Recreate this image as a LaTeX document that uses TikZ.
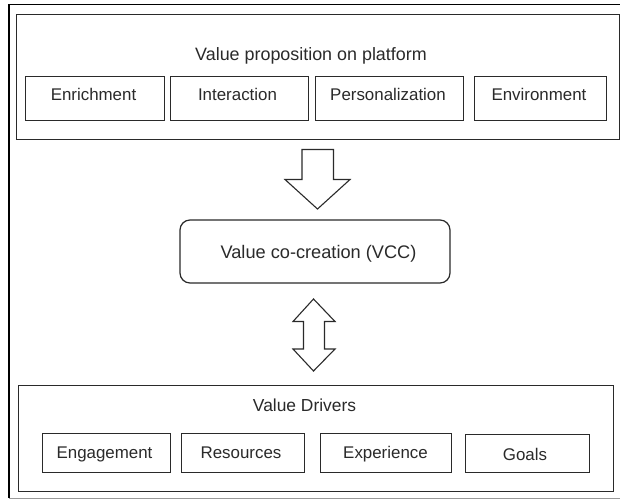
\documentclass[tikz,border=0pt]{standalone}
\usepackage{fontspec}
\setmainfont{Liberation Sans}
\definecolor{ink}{HTML}{2A2A2A}
\tikzset{
  frameline/.style={draw=ink,line width=1.2pt},
  itembox/.style={frameline,rectangle,inner sep=0pt,anchor=north west},
  itemtext/.style={text=ink,inner sep=0pt,anchor=base,font=\fontsize{16.9}{18}\selectfont},
  caption/.style={text=ink,inner sep=0pt,anchor=base,font=\fontsize{17.4}{18}\selectfont},
  bigarrow/.style={draw=ink,line width=1.1pt,line join=miter,fill=white}
}
% name, text, x0, x1, y0, y1, text x, text baseline y
\newcommand{\itemnode}[8]{\node[itembox,minimum width=#4pt-#3pt,minimum height=#6pt-#5pt] (#1) at (#3,#5) {};
  \node[itemtext] (#1text) at (#7,#8) {#2};}
\begin{document}
\begin{tikzpicture}[x=1pt,y=-1pt]
\useasboundingbox (0,0) rectangle (620,500);
\fill[white] (0,0) rectangle (620,500);
% outer frame
\draw[draw=black,line width=1.8pt] (620,4.5) -- (9,4.5) -- (9,498);
\draw[draw=gray!80,line width=1.2pt] (9,498.7) -- (620,498.7);
% top group
\node[frameline,rectangle,inner sep=0pt,anchor=north west,minimum width=603pt,minimum height=124.5pt] (topgroup) at (16,14) {};
\node[caption,font=\fontsize{17.9}{18}\selectfont] (toptitle) at (311,60.5) {Value proposition on platform};
\itemnode{enrich}{Enrichment}{25}{163.5}{76}{120}{93.5}{101}
\itemnode{interact}{Interaction}{169.5}{308}{76}{120}{237.5}{101}
\itemnode{personal}{Personalization}{315}{463}{76}{120}{388}{101}
\itemnode{environ}{Environment}{474}{606}{76}{120}{539}{101}
% arrow down
\draw[bigarrow] (302,149.5) -- (333.5,149.5) -- (333.5,179.5) -- (350,179.5) -- (317.5,209) -- (285,179.5) -- (302,179.5) -- cycle;
% centre
\node[frameline,rectangle,rounded corners=10pt,inner sep=0pt,minimum width=270pt,minimum height=63pt] (vcc) at (315,251.5) {};
\node[caption,font=\fontsize{18.2}{18}\selectfont] (vcctext) at (318.5,258) {Value co-creation (VCC)};
% double arrow
\draw[bigarrow] (313.5,299) -- (335,321.5) -- (324.5,321.5) -- (324.5,349) -- (335,349) -- (313.5,371) -- (293,349) -- (303.5,349) -- (303.5,321.5) -- (293,321.5) -- cycle;
% bottom group
\node[frameline,rectangle,inner sep=0pt,anchor=north west,minimum width=595pt,minimum height=105.5pt] (botgroup) at (18,385) {};
\node[caption] (bottitle) at (304.5,411) {Value Drivers};
\itemnode{engage}{Engagement}{41.5}{169.5}{432.5}{472}{104.5}{458.5}
\itemnode{resource}{Resources}{181}{304}{432.5}{472}{241}{458.5}
\itemnode{experience}{Experience}{320}{451}{432.5}{472}{385.5}{458.5}
\itemnode{goals}{Goals}{465}{589}{434}{472}{525}{460}
\end{tikzpicture}
\end{document}
